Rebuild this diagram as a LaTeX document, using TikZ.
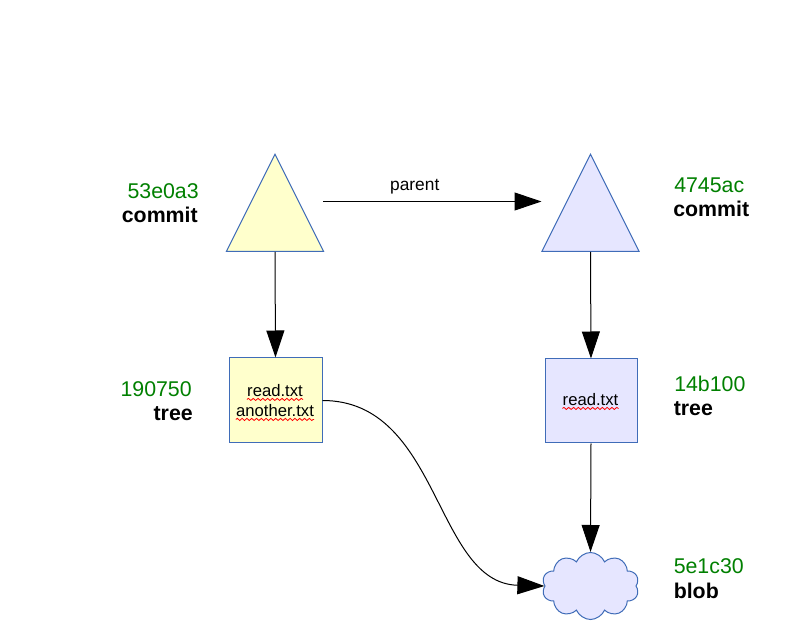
\documentclass[tikz,border=0pt]{standalone}
\usepackage{fontspec}
\setmainfont{Liberation Sans}
\usetikzlibrary{arrows.meta,shapes.geometric,shapes.symbols,decorations.pathmorphing}
\definecolor{yel}{HTML}{FFFFCC}
\definecolor{lav}{HTML}{E6E6FF}
\definecolor{bord}{HTML}{3F6CB8}
\definecolor{hash}{HTML}{008000}
\tikzset{
  arr/.style={line width=0.75pt, -{Triangle[length=20.25pt,width=13.5pt]}},
  tri/.style={draw=bord, line width=0.75pt, isosceles triangle, isosceles triangle stretches,
    shape border rotate=90, minimum width=72.75pt, minimum height=72.75pt, inner sep=0pt, anchor=apex},
  box/.style={draw=bord, line width=0.75pt, rectangle, inner sep=0pt},
  hashlbl/.style={text=hash, font=\fontsize{16}{19}\selectfont, inner sep=0pt},
  kindlbl/.style={font=\fontsize{16}{19}\selectfont\bfseries, inner sep=0pt},
  fname/.style={font=\fontsize{12.5}{15}\selectfont, inner sep=0pt},
  squig/.style={draw=red, line width=0.6pt, decorate, decoration={snake, amplitude=0.8pt, segment length=3.6pt}}
}
\begin{document}
\begin{tikzpicture}[x=0.75pt,y=-0.75pt]
\path[use as bounding box, fill=white] (0,0) rectangle (811,627);

% commits
\node[tri, fill=yel] (t1) at (275,153) {};
\node[tri, fill=lav] (t2) at (590.5,153) {};

% trees
\node[box, fill=yel, minimum width=69.75pt, minimum height=63.75pt] (b1) at (275.5,400.5) {};
\node[box, fill=lav, minimum width=69pt, minimum height=63pt] (b2) at (591,401) {};

% blob
\node[cloud, draw=bord, fill=lav, line width=0.75pt, cloud puffs=10, cloud puff arc=135,
  minimum width=72.75pt, minimum height=50.25pt, inner sep=0pt] (cl) at (590.5,586) {};

% file names
\node[fname, anchor=base] (f1) at (275,396.5) {read.txt};
\node[fname, anchor=base] (f2) at (275,416.5) {another.txt};
\node[fname, anchor=base] (f3) at (590.5,405.5) {read.txt};
\draw[squig] ([yshift=-2.2pt]f1.base west) -- ([yshift=-2.2pt]f1.base east);
\draw[squig] ([yshift=-2.2pt]f2.base west) -- ([yshift=-2.2pt]f2.base east);
\draw[squig] ([yshift=-2.2pt]f3.base west) -- ([yshift=-2.2pt]f3.base east);

% labels
\node[hashlbl, anchor=base east] (h1) at (199,199) {53e0a3};
\node[kindlbl, anchor=base east] (k1) at (198,223) {commit};
\node[hashlbl, anchor=base west] (h2) at (674,193) {4745ac};
\node[kindlbl, anchor=base west] (k2) at (673,217) {commit};
\node[hashlbl, anchor=base east] (h3) at (192,397) {190750};
\node[kindlbl, anchor=base east] (k3) at (193,421) {tree};
\node[hashlbl, anchor=base west] (h4) at (674,391.5) {14b100};
\node[kindlbl, anchor=base west] (k4) at (673.5,415.5) {tree};
\node[hashlbl, anchor=base west] (h5) at (673.5,573.5) {5e1c30};
\node[kindlbl, anchor=base west] (k5) at (673.5,598) {blob};

% connectors
\coordinate (pa) at (323,201.5);
\coordinate (pb) at (541.5,201.5);
\draw[arr] (pa) -- node[pos=0.42, fname, font=\fontsize{13}{15}\selectfont, anchor=base, yshift=8pt] (par) {parent} (pb);
\draw[arr] (t1.south) -- (b1.north);
\draw[arr] (t2.south) -- (b2.north);
\draw[arr] (b2.south) -- (cl.north);
\draw[arr] (b1.east) .. controls +(118,0) and +(-110,-3) .. (cl.west);
\end{tikzpicture}
\end{document}
